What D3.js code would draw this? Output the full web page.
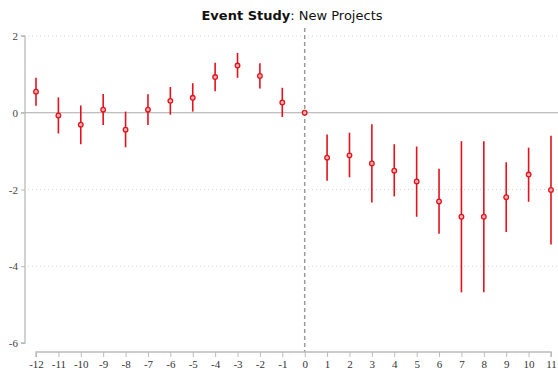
<!DOCTYPE html>
<html>
<head>
<meta charset="utf-8">
<script src="https://cdn.jsdelivr.net/npm/d3@7"></script>
<style>
  html, body { margin: 0; padding: 0; background: #fff; }
  svg { display: block; font-family: "DejaVu Sans", sans-serif; }
</style>
</head>
<body>
<svg id="chart" width="558" height="371"></svg>
<script>
// Event-time periods relative to project start
const periods = [-12, -11, -10, -9, -8, -7, -6, -5, -4, -3, -2, -1, 0, 1, 2, 3, 4, 5, 6, 7, 8, 9, 10, 11];
// Point estimates
const estimates = [0.55, -0.07, -0.31, 0.08, -0.44, 0.08, 0.31, 0.39, 0.93, 1.23, 0.96, 0.27, 0,
                   -1.17, -1.11, -1.32, -1.51, -1.79, -2.31, -2.71, -2.71, -2.20, -1.61, -2.01];
// 95% confidence bounds (reference period 0 has none)
const ciLow = [0.18, -0.54, -0.82, -0.32, -0.90, -0.32, -0.05, 0.03, 0.56, 0.91, 0.63, -0.11, null,
               -1.77, -1.68, -2.34, -2.18, -2.71, -3.15, -4.68, -4.68, -3.11, -2.32, -3.43];
const ciHigh = [0.91, 0.40, 0.19, 0.49, 0.03, 0.48, 0.67, 0.77, 1.30, 1.56, 1.29, 0.65, null,
                -0.57, -0.52, -0.30, -0.82, -0.88, -1.46, -0.74, -0.74, -1.29, -0.91, -0.60];
const yTicks = [2, 0, -2, -4, -6];

const svg = d3.select("#chart");
const red = "#e3121b";
const tickFont = "'Liberation Serif', 'DejaVu Serif', serif";
const fmt = d => String(d); // plain hyphen-minus labels

const x = d3.scaleLinear().domain([-12, 11]).range([36, 551]);
const y = d3.scaleLinear().domain([-6, 2]).range([343, 36]);

// Title
const title = svg.append("text")
  .attr("x", 292).attr("y", 20)
  .attr("text-anchor", "middle")
  .attr("font-size", 13).attr("fill", "#111");
title.append("tspan").attr("font-weight", "bold").text("Event Study");
title.append("tspan").text(": New Projects");

// Dotted horizontal gridlines
svg.append("g").selectAll("line")
  .data(yTicks.filter(d => d !== 0 && d !== -6))
  .join("line")
  .attr("x1", 28).attr("x2", 558)
  .attr("y1", d => y(d)).attr("y2", d => y(d))
  .attr("stroke", "#d4d4d4").attr("stroke-width", 1)
  .attr("stroke-dasharray", "1,3");

// Zero reference line
svg.append("line")
  .attr("x1", 21).attr("x2", 558)
  .attr("y1", y(0)).attr("y2", y(0))
  .attr("stroke", "#aaaaaa").attr("stroke-width", 1.2);

// Event onset marker
svg.append("line")
  .attr("x1", x(0)).attr("x2", x(0))
  .attr("y1", 28).attr("y2", 352)
  .attr("stroke", "#9a9a9a").attr("stroke-width", 1.5)
  .attr("stroke-dasharray", "4,3");

// Y axis
const yAxis = svg.append("g")
  .attr("transform", "translate(25,0)")
  .call(d3.axisLeft(y).tickValues(yTicks).tickSize(4).tickPadding(3).tickFormat(fmt));
yAxis.select(".domain").attr("stroke", "#bbbbbb").attr("stroke-width", 1.3)
  .attr("d", `M-4,${y(2)}H0V${y(-6)}H-4`);
yAxis.selectAll(".tick line").attr("stroke", "#bbbbbb");
yAxis.selectAll("text").attr("font-size", 11).attr("fill", "#444").attr("font-family", tickFont);

// X axis
const xAxis = svg.append("g")
  .attr("transform", "translate(0,352)")
  .call(d3.axisBottom(x).tickValues(periods).tickSize(5).tickPadding(3).tickFormat(fmt));
xAxis.select(".domain").attr("stroke", "#bbbbbb").attr("stroke-width", 1.3)
  .attr("d", `M${x(-12)},5V0H${x(11)}V5`);
xAxis.selectAll(".tick line").attr("stroke", "#bbbbbb");
xAxis.selectAll("text").attr("font-size", 11).attr("fill", "#333").attr("font-family", tickFont);

const rows = periods.map((p, i) => ({ p, est: estimates[i], lo: ciLow[i], hi: ciHigh[i] }));

// Confidence intervals
svg.append("g").selectAll("line")
  .data(rows.filter(d => d.lo !== null))
  .join("line")
  .attr("x1", d => x(d.p)).attr("x2", d => x(d.p))
  .attr("y1", d => y(d.hi)).attr("y2", d => y(d.lo))
  .attr("stroke", red).attr("stroke-width", 1.6);

// Point estimates
svg.append("g").selectAll("circle")
  .data(rows)
  .join("circle")
  .attr("cx", d => x(d.p)).attr("cy", d => y(d.est))
  .attr("r", 2.3)
  .attr("fill", "#f6b5b5").attr("stroke", red).attr("stroke-width", 1.3);
</script>
</body>
</html>
